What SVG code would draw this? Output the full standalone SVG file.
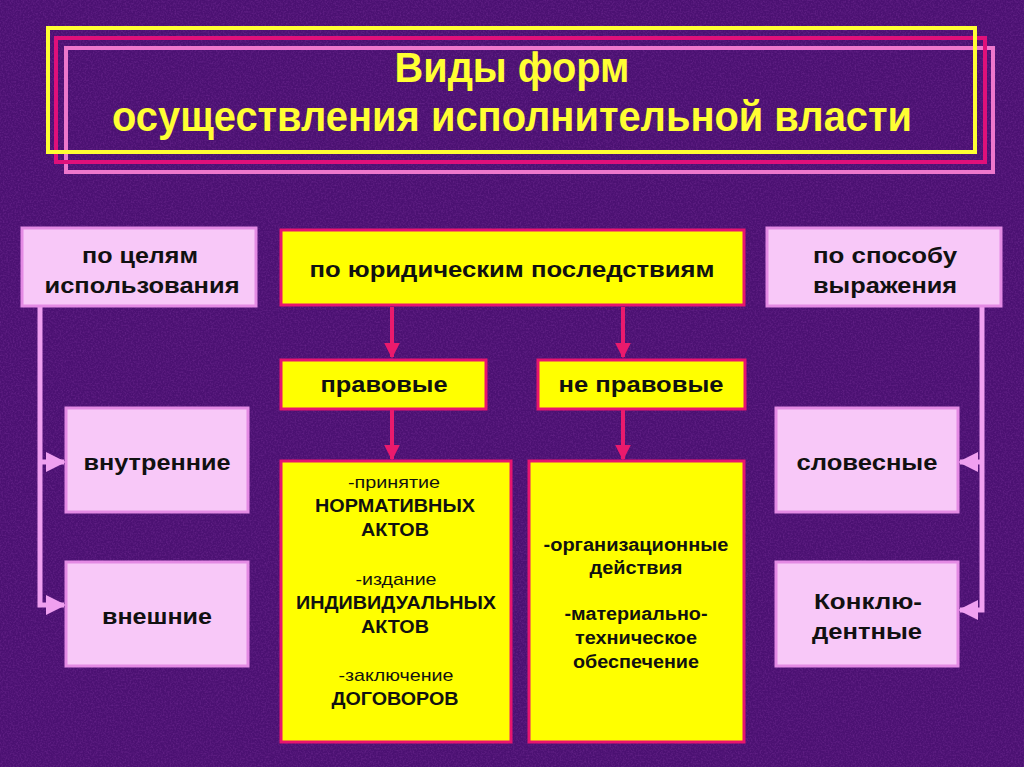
<svg xmlns="http://www.w3.org/2000/svg" width="1024" height="767" viewBox="0 0 1024 767">
<defs>
<style>
.t{font-family:"Liberation Sans",Arial,sans-serif;font-weight:bold;fill:#111;text-anchor:middle}
.n{font-family:"Liberation Sans",Arial,sans-serif;font-weight:normal;fill:#111;text-anchor:middle}
.pink{fill:#f8c8f8;stroke:#e48ae4;stroke-width:3}
.yel{fill:#ffff00;stroke:#e8156e;stroke-width:3}
.red{stroke:#ea1a6c;stroke-width:4;fill:none}
.pl{stroke:#f0a0f0;stroke-width:5;fill:none}
.ttl{font-family:"Liberation Sans",Arial,sans-serif;font-weight:bold;fill:#ffff33;text-anchor:middle}
</style>
<filter id="tex" x="0" y="0" width="100%" height="100%">
<feTurbulence type="fractalNoise" baseFrequency="0.6" numOctaves="2" seed="3" result="n"/>
<feColorMatrix in="n" type="matrix" values="0 0 0 0 0.45  0 0 0 0 0.1  0 0 0 0 0.6  0 0 0 0.9 -0.35"/>
</filter>
<marker id="ar" viewBox="0 0 10 10" refX="9" refY="5" markerWidth="4" markerHeight="4" orient="auto" markerUnits="strokeWidth"><path d="M0,0 L10,5 L0,10 z" fill="#ea1a6c"/></marker>
<marker id="ap" viewBox="0 0 10 10" refX="9" refY="5" markerWidth="4" markerHeight="4" orient="auto" markerUnits="strokeWidth"><path d="M0,0 L10,5 L0,10 z" fill="#f0a0f0"/></marker>
</defs>
<rect width="1024" height="767" fill="#4b1172"/>
<rect width="1024" height="767" filter="url(#tex)" opacity="0.5"/>
<g id="title">
<rect x="66" y="48" width="927" height="124" fill="none" stroke="#ee77cc" stroke-width="4"/>
<rect x="56" y="38" width="929" height="124" fill="none" stroke="#e0107a" stroke-width="4"/>
<rect x="48" y="28" width="927" height="124" fill="none" stroke="#ffff33" stroke-width="4"/>
<text class="ttl" x="512" y="82" font-size="42" textLength="235" lengthAdjust="spacingAndGlyphs">Виды форм</text>
<text class="ttl" x="512" y="131" font-size="42" textLength="800" lengthAdjust="spacingAndGlyphs">осуществления исполнительной власти</text>
</g>
<g id="connectors">
<line class="red" x1="392" y1="307" x2="392" y2="357" marker-end="url(#ar)"/>
<line class="red" x1="623" y1="307" x2="623" y2="357" marker-end="url(#ar)"/>
<line class="red" x1="392" y1="410" x2="392" y2="459" marker-end="url(#ar)" stroke-width="3"/>
<line class="red" x1="623" y1="410" x2="623" y2="459" marker-end="url(#ar)" stroke-width="3"/>
<polyline class="pl" points="40,307 40,605 64,605" marker-end="url(#ap)"/>
<line class="pl" x1="40" y1="462" x2="64" y2="462" marker-end="url(#ap)"/>
<polyline class="pl" points="982,307 982,610 960,610" marker-end="url(#ap)"/>
<line class="pl" x1="982" y1="462" x2="960" y2="462" marker-end="url(#ap)"/>
</g>
<g id="goals">
<rect class="pink" x="22" y="228" width="234" height="78"/>
<text class="t" x="140" y="263" font-size="22" textLength="116" lengthAdjust="spacingAndGlyphs">по целям</text>
<text class="t" x="142" y="293" font-size="22" textLength="195" lengthAdjust="spacingAndGlyphs">использования</text>
</g>
<g id="legal">
<rect class="yel" x="281" y="230" width="463" height="75"/>
<text class="t" x="512" y="277" font-size="22" textLength="405" lengthAdjust="spacingAndGlyphs">по юридическим последствиям</text>
</g>
<g id="expression">
<rect class="pink" x="767" y="228" width="234" height="78"/>
<text class="t" x="885" y="263" font-size="22" textLength="144" lengthAdjust="spacingAndGlyphs">по способу</text>
<text class="t" x="885" y="293" font-size="22" textLength="144" lengthAdjust="spacingAndGlyphs">выражения</text>
</g>
<g id="pravovye">
<rect class="yel" x="281" y="360" width="205" height="49"/>
<text class="t" x="384" y="392" font-size="22" textLength="127" lengthAdjust="spacingAndGlyphs">правовые</text>
</g>
<g id="nepravovye">
<rect class="yel" x="538" y="360" width="207" height="49"/>
<text class="t" x="641" y="392" font-size="22" textLength="165" lengthAdjust="spacingAndGlyphs">не правовые</text>
</g>
<g id="legal-list">
<rect class="yel" x="281" y="461" width="230" height="281"/>
<text class="n" x="394" y="488" font-size="17" textLength="92" lengthAdjust="spacingAndGlyphs">-принятие</text>
<text class="t" x="395" y="512" font-size="19" textLength="160" lengthAdjust="spacingAndGlyphs">НОРМАТИВНЫХ</text>
<text class="t" x="395" y="536" font-size="19" textLength="68" lengthAdjust="spacingAndGlyphs">АКТОВ</text>
<text class="n" x="396" y="585" font-size="17" textLength="81" lengthAdjust="spacingAndGlyphs">-издание</text>
<text class="t" x="396" y="609" font-size="19" textLength="200" lengthAdjust="spacingAndGlyphs">ИНДИВИДУАЛЬНЫХ</text>
<text class="t" x="395" y="633" font-size="19" textLength="68" lengthAdjust="spacingAndGlyphs">АКТОВ</text>
<text class="n" x="396" y="681" font-size="17" textLength="115" lengthAdjust="spacingAndGlyphs">-заключение</text>
<text class="t" x="395" y="705" font-size="19" textLength="127" lengthAdjust="spacingAndGlyphs">ДОГОВОРОВ</text>
</g>
<g id="nonlegal-list">
<rect class="yel" x="529" y="461" width="215" height="281"/>
<text class="t" x="636" y="551" font-size="18" textLength="185" lengthAdjust="spacingAndGlyphs">-организационные</text>
<text class="t" x="636" y="574" font-size="18" textLength="93" lengthAdjust="spacingAndGlyphs">действия</text>
<text class="t" x="636" y="620" font-size="18" textLength="143" lengthAdjust="spacingAndGlyphs">-материально-</text>
<text class="t" x="636" y="644" font-size="18" textLength="122" lengthAdjust="spacingAndGlyphs">техническое</text>
<text class="t" x="636" y="668" font-size="18" textLength="126" lengthAdjust="spacingAndGlyphs">обеспечение</text>
</g>
<g id="internal">
<rect class="pink" x="66" y="408" width="182" height="104"/>
<text class="t" x="157" y="470" font-size="22" textLength="147" lengthAdjust="spacingAndGlyphs">внутренние</text>
</g>
<g id="external">
<rect class="pink" x="66" y="562" width="182" height="104"/>
<text class="t" x="157" y="624" font-size="22" textLength="110" lengthAdjust="spacingAndGlyphs">внешние</text>
</g>
<g id="verbal">
<rect class="pink" x="776" y="408" width="182" height="104"/>
<text class="t" x="867" y="470" font-size="22" textLength="141" lengthAdjust="spacingAndGlyphs">словесные</text>
</g>
<g id="conclusive">
<rect class="pink" x="776" y="562" width="182" height="104"/>
<text class="t" x="868" y="609" font-size="22" textLength="108" lengthAdjust="spacingAndGlyphs">Конклю-</text>
<text class="t" x="867" y="639" font-size="22" textLength="110" lengthAdjust="spacingAndGlyphs">дентные</text>
</g>
</svg>
